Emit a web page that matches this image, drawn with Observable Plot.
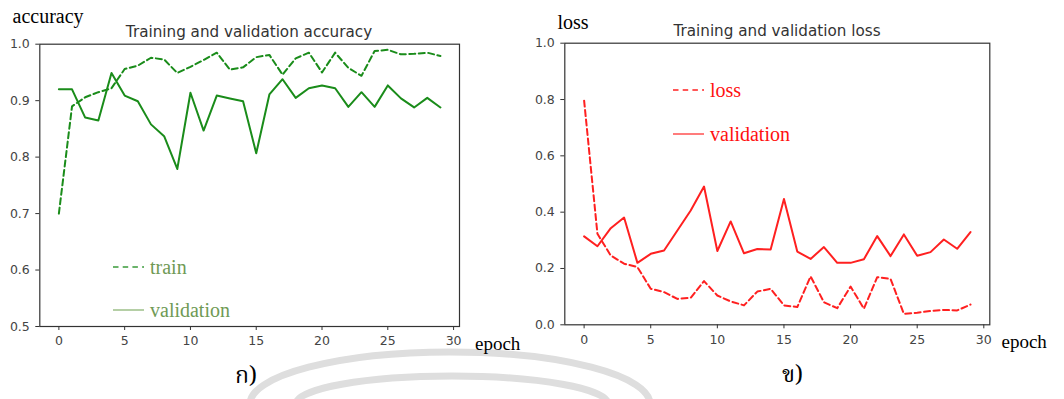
<!DOCTYPE html>
<html><head><meta charset="utf-8">
<script src="https://cdn.jsdelivr.net/npm/d3@7"></script>
<script src="https://cdn.jsdelivr.net/npm/@observablehq/plot@0.6"></script>
<style>
body{margin:0;background:#fff;}
#wrap{position:relative;width:1064px;height:399px;overflow:hidden;background:#fff;}
#wrap > svg{position:absolute;top:0;}
.plab{position:absolute;font-family:'Noto Serif Thai','Noto Sans Thai','Garuda','Loma','Norasi','DejaVu Sans',sans-serif;font-size:23px;line-height:23px;height:23px;color:#000;white-space:nowrap;}
</style></head><body><div id="wrap"></div>
<script>
// ---- data ----
const epochs = [0,1,2,3,4,5,6,7,8,9,10,11,12,13,14,15,16,17,18,19,20,21,22,23,24,25,26,27,28,29];
const trainAcc = [0.700,0.890,0.906,0.915,0.922,0.956,0.962,0.976,0.973,0.949,0.960,0.972,0.985,0.955,0.959,0.977,0.981,0.946,0.975,0.985,0.950,0.985,0.958,0.944,0.988,0.990,0.982,0.983,0.985,0.979];
const valAcc = [0.920,0.920,0.870,0.865,0.949,0.909,0.899,0.858,0.837,0.779,0.914,0.847,0.909,0.904,0.899,0.807,0.911,0.938,0.905,0.922,0.927,0.922,0.889,0.915,0.889,0.927,0.904,0.888,0.905,0.888];
const trainLoss = [0.796,0.323,0.246,0.217,0.205,0.128,0.116,0.092,0.096,0.155,0.104,0.083,0.069,0.118,0.128,0.069,0.063,0.172,0.080,0.059,0.136,0.057,0.169,0.163,0.039,0.043,0.049,0.053,0.051,0.072];
const valLoss = [0.314,0.279,0.343,0.381,0.220,0.252,0.264,0.335,0.406,0.491,0.262,0.367,0.254,0.269,0.267,0.447,0.260,0.234,0.276,0.220,0.220,0.233,0.315,0.244,0.321,0.245,0.258,0.303,0.270,0.329];
const xTicks = [0,5,10,15,20,25,30];
const accTicks = [0.5,0.6,0.7,0.8,0.9,1.0];
const lossTicks = [0.0,0.2,0.4,0.6,0.8,1.0];
const titles = ["Training and validation accuracy","Training and validation loss"];
const accLegend = ["train","validation"];
const lossLegend = ["loss","validation"];
const yLabels = ["accuracy","loss"];
const xLabel = "epoch";
const panelLabels = ["ก)","ข)"];

const wrap = document.getElementById("wrap");
const W = 1064, H = 399;

// background watermark
const bg = d3.select(wrap).append("svg").attr("width",W).attr("height",H).style("left","0px");
bg.append("path").attr("d","M 250 404 A 200 52 0 0 1 650 404").attr("fill","none").attr("stroke","#dedede").attr("stroke-width",7);
bg.append("path").attr("d","M 296 404 A 156 28 0 0 1 608 404").attr("fill","none").attr("stroke","#dedede").attr("stroke-width",7);

function panel({train, val, yDomain, yTicks, color, left, width, mL, mR, mT, mB}) {
  const data = epochs.map((e,i)=>({epoch:e, train:train[i], val:val[i]}));
  const svg = Plot.plot({
    width, height: H,
    marginLeft: mL, marginRight: mR, marginTop: mT, marginBottom: mB,
    style: {background:"transparent", fontFamily:"DejaVu Sans", fontSize:"12.5px", overflow:"visible"},
    x: {domain:[-1.45,30.45]},
    y: {domain:yDomain},
    marks: [
      Plot.axisX({ticks:xTicks, tickSize:4, tickPadding:6, fontSize:12.5, fill:"#444", stroke:"#333", label:null}),
      Plot.axisY({ticks:yTicks, tickFormat:".1f", tickSize:4, tickPadding:6, fontSize:12.5, fill:"#444", stroke:"#333", label:null}),
      Plot.line(data,{x:"epoch", y:"train", stroke:color, strokeWidth:2, strokeDasharray:"6,3.5"}),
      Plot.line(data,{x:"epoch", y:"val", stroke:color, strokeWidth:2}),
      Plot.frame({stroke:"#333", strokeWidth:1.2})
    ]
  });
  svg.style.left = left + "px";
  wrap.appendChild(svg);
}

panel({train:trainAcc, val:valAcc, yDomain:[0.5,1.0], yTicks:accTicks, color:"#1a8c1a",
  left:0, width:540, mL:39.3, mR:81, mT:43.7, mB:73});
panel({train:trainLoss, val:valLoss, yDomain:[0,1.0], yTicks:lossTicks, color:"#ff2020",
  left:530, width:534, mL:34.3, mR:74.7, mT:42.7, mB:74.7});

// overlay text
const ov = d3.select(wrap).append("svg").attr("width",W).attr("height",H).style("left","0px");
const serif = "'Liberation Serif','Times New Roman',serif";
ov.append("text").attr("x",249).attr("y",36.5).attr("text-anchor","middle").attr("font-family","DejaVu Sans").attr("font-size",15.2).attr("fill","#333").text(titles[0]);
ov.append("text").attr("x",777).attr("y",35.5).attr("text-anchor","middle").attr("font-family","DejaVu Sans").attr("font-size",15.2).attr("fill","#333").text(titles[1]);
ov.append("text").attr("x",12.5).attr("y",23).attr("font-family",serif).attr("font-size",20).attr("fill","#000").text(yLabels[0]);
ov.append("text").attr("x",557.5).attr("y",29).attr("font-family",serif).attr("font-size",20).attr("fill","#000").text(yLabels[1]);
ov.append("text").attr("x",475).attr("y",350).attr("font-family",serif).attr("font-size",19).attr("fill","#000").text(xLabel);
ov.append("text").attr("x",1001.5).attr("y",348).attr("font-family",serif).attr("font-size",19).attr("fill","#000").text(xLabel);

// panel labels as HTML (tight line box so they stay inside the frame)
d3.select(wrap).append("div").attr("class","plab").style("left","235px").style("top","366px").text(panelLabels[0]);
d3.select(wrap).append("div").attr("class","plab").style("left","782px").style("top","365px").text(panelLabels[1]);

// legends
function legend(x0, y1, y2, labels, dashColor, solidColor, textColor) {
  ov.append("line").attr("x1",x0).attr("x2",x0+31).attr("y1",y1).attr("y2",y1).attr("stroke",dashColor).attr("stroke-width",1.5).attr("stroke-dasharray","5.5,4.2");
  ov.append("line").attr("x1",x0).attr("x2",x0+31).attr("y1",y2).attr("y2",y2).attr("stroke",solidColor).attr("stroke-width",1.5);
  ov.append("text").attr("x",x0+37).attr("y",y1+6.5).attr("font-family",serif).attr("font-size",20).attr("fill",textColor).text(labels[0]);
  ov.append("text").attr("x",x0+37).attr("y",y2+6.5).attr("font-family",serif).attr("font-size",20).attr("fill",textColor).text(labels[1]);
}
legend(113, 267, 310, accLegend, "#3a9a3a", "#9cbf88", "#6f9a55");
legend(673, 90, 134, lossLegend, "#ff2020", "#ff5050", "#ff1010");
</script></body></html>
